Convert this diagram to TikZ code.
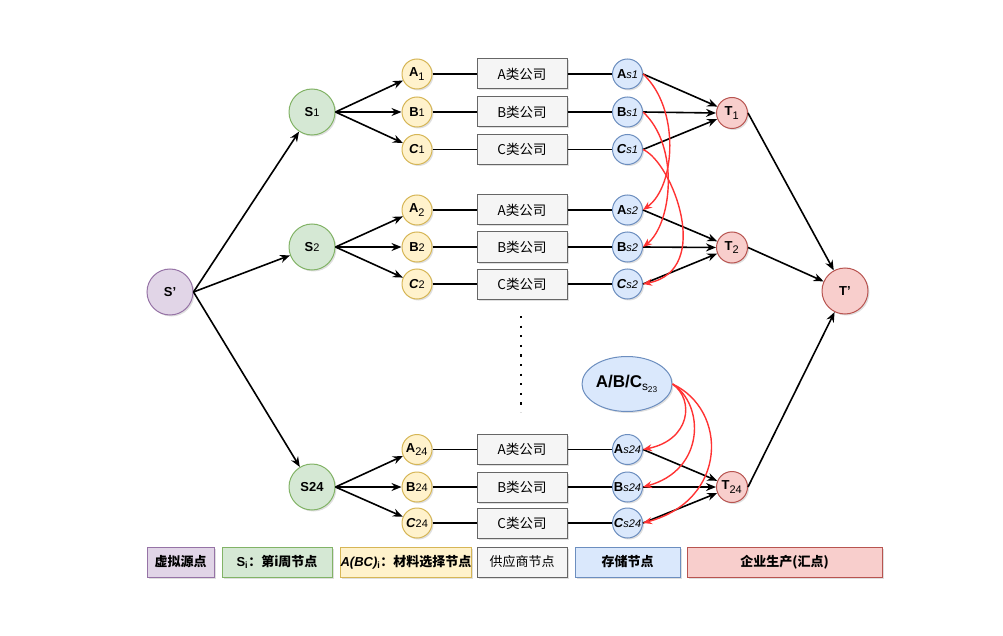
\documentclass[tikz,border=0pt]{standalone}
\usepackage{fontspec}
\setmainfont{Liberation Sans}
\newfontfamily\cjk{Noto Sans CJK SC}
\usetikzlibrary{arrows.meta,shapes.geometric,shadows}
\definecolor{pfill}{HTML}{E1D5E7}\definecolor{pdraw}{HTML}{9673A6}
\definecolor{gfill}{HTML}{D5E8D4}\definecolor{gdraw}{HTML}{82B366}
\definecolor{yfill}{HTML}{FFF2CC}\definecolor{ydraw}{HTML}{D6B656}
\definecolor{sfill}{HTML}{F5F5F5}\definecolor{sdraw}{HTML}{666666}
\definecolor{bfill}{HTML}{DAE8FC}\definecolor{bdraw}{HTML}{6C8EBF}
\definecolor{rfill}{HTML}{F8CECC}\definecolor{rdraw}{HTML}{B85450}
\definecolor{redc}{HTML}{FF3333}
\newcommand\lb[2]{\textbf{#1}{\mdseries\fontsize{11}{11}\selectfont #2}}
\newcommand\ls[2]{\textbf{#1}\textsubscript{\mdseries\fontsize{11}{11}\selectfont #2}}
\begin{document}
\begin{tikzpicture}[x=1pt,y=-1pt,
  base/.style={draw, line width=1pt, drop shadow={shadow xshift=1.5pt, shadow yshift=-1.5pt, opacity=0.25}, font=\fontsize{13}{15}\selectfont, text=black},
  big/.style={base, circle, minimum size=46pt, inner sep=0pt},
  small/.style={base, circle, minimum size=30pt, inner sep=0pt},
  src/.style={big, fill=pfill, draw=pdraw},
  week/.style={big, fill=gfill, draw=gdraw},
  mat/.style={small, fill=yfill, draw=ydraw},
  supbox/.style={base, rectangle, fill=sfill, draw=sdraw, minimum width=90pt, minimum height=30pt, inner sep=0pt, font=\cjk\fontsize{13.5}{15}\selectfont},
  store/.style={small, fill=bfill, draw=bdraw},
  sink/.style={base, circle, fill=rfill, draw=rdraw, inner sep=0pt},
  sinkbig/.style={sink, minimum size=46pt},
  sinksmall/.style={sink, minimum size=31pt},
  legend/.style={base, rectangle, minimum height=30pt, inner sep=0pt, font=\fontsize{13}{15}\selectfont},
  arr/.style={-{Stealth[length=10pt,width=8pt]}, line width=1.6pt},
  plain/.style={line width=1.6pt},
  rarr/.style={-{Stealth[length=9pt,width=7pt]}, line width=1.4pt, draw=redc}]
\useasboundingbox (0,0) rectangle (1003,636);

% source and sink
\node[src] (Sp) at (170,292) {\textbf{S'}};
\node[sinkbig] (Tp) at (845,291) {\textbf{T'}};

% week nodes
\node[week] (S1) at (312,112) {\lb{S}{1}};
\node[week] (S2) at (312,247) {\lb{S}{2}};
\node[week] (S24) at (312,487) {\textbf{S24}};

% material nodes
\node[mat] (A1) at (417,74) {\ls{A}{1}};
\node[mat] (B1) at (417,112) {\lb{B}{1}};
\node[mat] (C1) at (417,149.5) {\lb{\itshape C}{1}};
\node[mat] (A2) at (417,210) {\ls{A}{2}};
\node[mat] (B2) at (417,247) {\lb{B}{2}};
\node[mat] (C2) at (417,284) {\lb{\itshape C}{2}};
\node[mat] (A24) at (417,449.5) {\ls{A}{24}};
\node[mat] (B24) at (417,487) {\lb{B}{24}};
\node[mat] (C24) at (417,523) {\lb{\itshape C}{24}};

% supplier boxes
\node[supbox] (PA1) at (522,74) {A类公司};
\node[supbox] (PB1) at (522,112) {B类公司};
\node[supbox] (PC1) at (522,149.5) {C类公司};
\node[supbox] (PA2) at (522,210) {A类公司};
\node[supbox] (PB2) at (522,247) {B类公司};
\node[supbox] (PC2) at (522,284) {C类公司};
\node[supbox] (PA24) at (522,449.5) {A类公司};
\node[supbox] (PB24) at (522,487) {B类公司};
\node[supbox] (PC24) at (522,523) {C类公司};

% storage nodes
\node[store] (SA1) at (627.5,74) {\lb{A}{\itshape s1}};
\node[store] (SB1) at (627.5,112) {\lb{B}{\itshape s1}};
\node[store] (SC1) at (627.5,149.5) {\lb{\itshape C}{\itshape s1}};
\node[store] (SA2) at (627.5,210) {\lb{A}{\itshape s2}};
\node[store] (SB2) at (627.5,247) {\lb{B}{\itshape s2}};
\node[store] (SC2) at (627.5,284) {\lb{\itshape C}{\itshape s2}};
\node[store] (SA24) at (627.5,449.5) {\lb{A}{\itshape s24}};
\node[store] (SB24) at (627.5,487) {\lb{B}{\itshape s24}};
\node[store] (SC24) at (627.5,523) {\lb{\itshape C}{\itshape s24}};
\node[base, ellipse, fill=bfill, draw=bdraw, minimum width=90pt, minimum height=55pt, inner sep=0pt, font=\fontsize{17}{19}\selectfont] (E) at (627,384) {\textbf{A/B/C}\textsubscript{\mdseries s\textsubscript{23}}};

% sink nodes
\node[sinksmall] (T1) at (732,113) {\ls{T}{1}};
\node[sinksmall] (T2) at (732,247.5) {\ls{T}{2}};
\node[sinksmall] (T24) at (732,487) {\ls{T}{24}};

% dots
\coordinate (D1) at (521,316);
\coordinate (D2) at (521,412);
\draw[line width=2.2pt, dash pattern=on 2.2pt off 7.4pt] (D1) -- (D2);

% connectors: source to weeks
\draw[arr] (Sp.east) -- (S1);
\draw[arr] (Sp.east) -- (S2);
\draw[arr] (Sp.east) -- (S24);
% weeks to materials
\foreach \s/\a/\b/\c in {S1/A1/B1/C1, S2/A2/B2/C2, S24/A24/B24/C24}{
  \draw[arr] (\s.east) -- (\a);
  \draw[arr] (\s.east) -- (\b.west);
  \draw[arr] (\s.east) -- (\c);
}
% materials - suppliers - storage
\foreach \n in {A1,B1,C1,A2,B2,C2,A24,B24,C24}{
  \draw[plain] (\n.east) -- (P\n.west);
  \draw[plain] (P\n.east) -- (S\n.west);
}
% storage to T
\foreach \k in {1,2,24}{
  \draw[arr] (SA\k.east) -- (T\k);
  \draw[arr] (SB\k.east) -- (T\k.west);
  \draw[arr] (SC\k.east) -- (T\k);
  \draw[arr] (T\k.east) -- (Tp);
}
% red carry-over curves
\draw[rarr] (SA1.east) .. controls (680,108) and (676,186) .. (SA2.east);
\draw[rarr] (SB1.east) .. controls (680,146) and (672,224) .. (SB2.east);
\draw[rarr] (SC1.east) .. controls (672,162) and (714,270) .. (SC2.east);
\draw[rarr] (E.east) .. controls (695,400) and (690,440) .. (SA24.east);
\draw[rarr] (E.east) .. controls (705,405) and (705,470) .. (SB24.east);
\draw[rarr] (E.east) .. controls (728,410) and (728,500) .. (SC24.east);

% legend
\node[legend, fill=pfill, draw=pdraw, minimum width=67pt] (L1) at (180.5,562) {\cjk\bfseries 虚拟源点};
\node[legend, fill=gfill, draw=gdraw, minimum width=110pt] (L2) at (277,562) {\textbf{S}\textsubscript{\bfseries i}{\cjk\bfseries ：第i周节点}};
\node[legend, fill=yfill, draw=ydraw, minimum width=128pt] (L3) at (406,562) {\textbf{\itshape A(BC)}\textsubscript{\bfseries i}{\cjk\bfseries ：材料选择节点}};
\node[legend, fill=sfill, draw=sdraw, minimum width=90pt] (L4) at (522,562) {\cjk 供应商节点};
\node[legend, fill=bfill, draw=bdraw, minimum width=105pt] (L5) at (627.5,562) {\cjk\bfseries 存储节点};
\node[legend, fill=rfill, draw=rdraw, minimum width=195pt] (L6) at (784.5,562) {\cjk\bfseries 企业生产(汇点)};
\end{tikzpicture}
\end{document}
